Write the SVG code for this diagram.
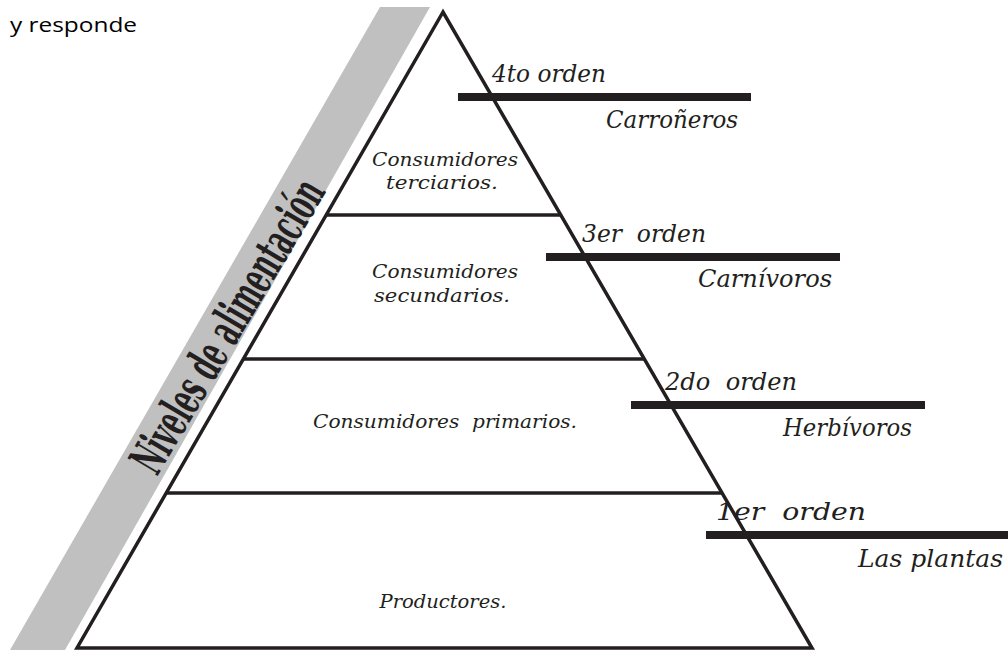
<svg xmlns="http://www.w3.org/2000/svg" width="1008" height="650" viewBox="0 0 1008 650">
<style>
.ln{stroke:#231f20;stroke-width:3.5;fill:none}
.bar{stroke:#231f20;stroke-width:8}
.lbl{font-family:"DejaVu Serif","Liberation Serif",serif;font-style:italic;fill:#231f20;font-size:25px}
.in{font-family:"DejaVu Serif","Liberation Serif",serif;font-style:italic;fill:#231f20;font-size:19px;text-anchor:middle}
</style>
<rect width="1008" height="650" fill="#fff"/>
<text x="10" y="32" font-family="'Open Sans','Liberation Sans',sans-serif" font-size="20" fill="#000" textLength="127" lengthAdjust="spacingAndGlyphs">y responde</text>
<g id="band">
<polygon points="380,7 430,7 65,650 10,650" fill="#c0c0c0"/>
<text transform="translate(157,477) rotate(-59.3)" font-family="'DejaVu Serif Condensed','DejaVu Serif',serif" font-size="48" font-weight="bold" fill="#231f20" textLength="332" lengthAdjust="spacingAndGlyphs">Niveles de alimentación</text>
</g>
<g id="pyramid">
<polygon class="ln" points="443,12 77,648 812,648" stroke-linejoin="miter"/>
<line class="ln" x1="326" y1="215" x2="561" y2="215"/>
<line class="ln" x1="243" y1="359" x2="644" y2="359"/>
<line class="ln" x1="166" y1="493" x2="722" y2="493"/>
</g>
<g id="level4">
<text class="in" x="445" y="166" textLength="146" lengthAdjust="spacingAndGlyphs">Consumidores</text>
<text class="in" x="442" y="189" textLength="112" lengthAdjust="spacingAndGlyphs">terciarios.</text>
</g>
<g id="level3">
<text class="in" x="445" y="278" textLength="146" lengthAdjust="spacingAndGlyphs">Consumidores</text>
<text class="in" x="442" y="302" textLength="136" lengthAdjust="spacingAndGlyphs">secundarios.</text>
</g>
<g id="level2">
<text class="in" x="445" y="428" textLength="264" lengthAdjust="spacingAndGlyphs" xml:space="preserve">Consumidores  primarios.</text>
</g>
<g id="level1">
<text class="in" x="443" y="608" textLength="127" lengthAdjust="spacingAndGlyphs">Productores.</text>
</g>
<g id="connectors">
<line class="bar" x1="458" y1="97" x2="751" y2="97"/>
<line class="bar" x1="546" y1="257" x2="840" y2="257"/>
<line class="bar" x1="631" y1="405" x2="925" y2="405"/>
<line class="bar" x1="706" y1="535" x2="1008" y2="535"/>
</g>
<g id="order4">
<text class="lbl" x="492" y="82" textLength="114" lengthAdjust="spacingAndGlyphs">4to orden</text>
<text class="lbl" x="606" y="128" textLength="132" lengthAdjust="spacingAndGlyphs">Carroñeros</text>
</g>
<g id="order3">
<text class="lbl" x="582" y="242" textLength="124" lengthAdjust="spacingAndGlyphs" xml:space="preserve">3er  orden</text>
<text class="lbl" x="698" y="287" textLength="134" lengthAdjust="spacingAndGlyphs">Carnívoros</text>
</g>
<g id="order2">
<text class="lbl" x="665" y="390" textLength="132" lengthAdjust="spacingAndGlyphs" xml:space="preserve">2do  orden</text>
<text class="lbl" x="783" y="436" textLength="129" lengthAdjust="spacingAndGlyphs">Herbívoros</text>
</g>
<g id="order1">
<text class="lbl" x="716" y="520" textLength="150" lengthAdjust="spacingAndGlyphs" xml:space="preserve">1er  orden</text>
<text class="lbl" x="858" y="567" textLength="145" lengthAdjust="spacingAndGlyphs">Las plantas</text>
</g>
</svg>
